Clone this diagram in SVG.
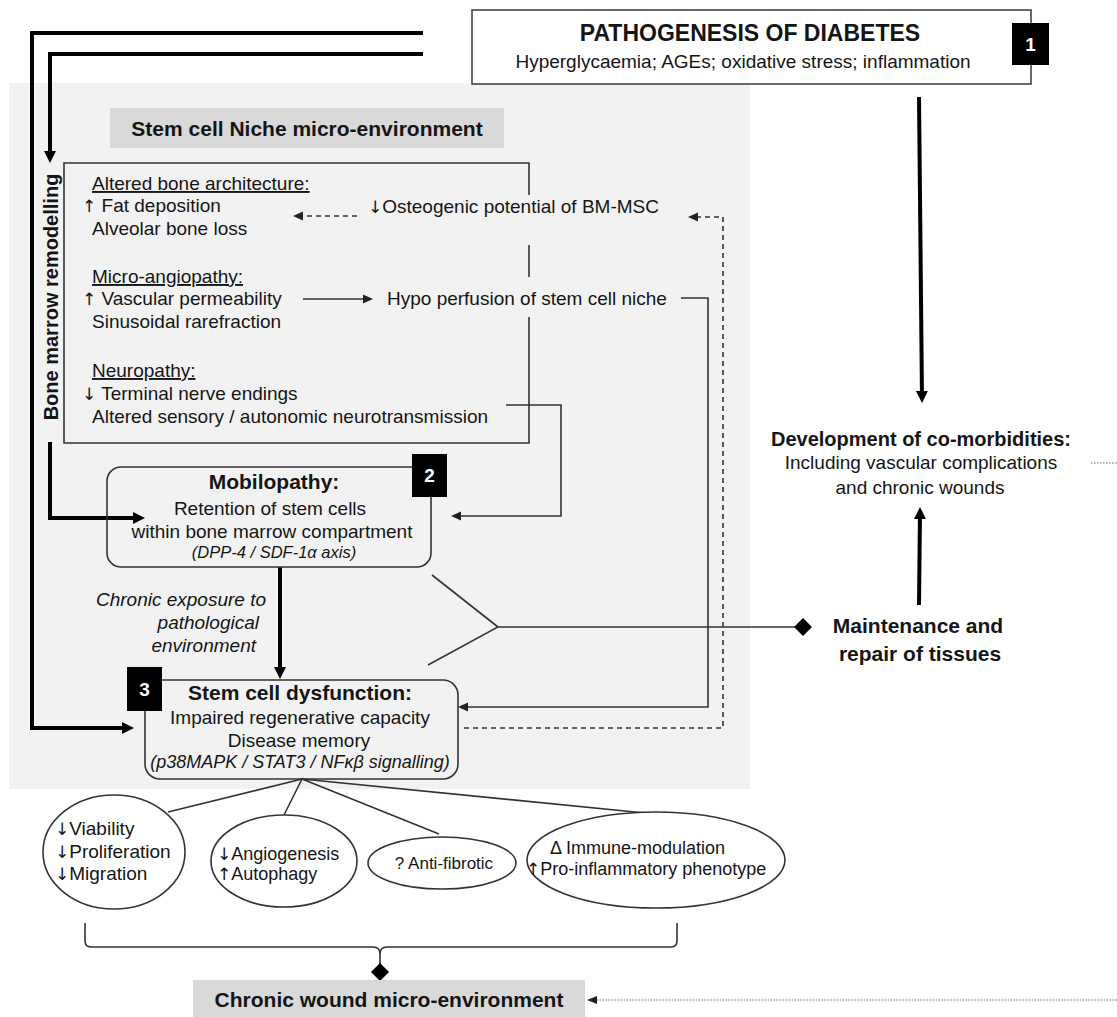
<svg xmlns="http://www.w3.org/2000/svg" width="1117" height="1017" viewBox="0 0 1117 1017">
<defs>
<style>
text{font-family:"Liberation Sans",Arial,"DejaVu Sans",sans-serif;fill:#151515}
.ar{font-family:"DejaVu Sans",sans-serif;font-size:17px;fill:#151515}
.b{font-weight:bold}
.i{font-style:italic}
.s19{font-size:19px}
.s18{font-size:18px}
.s21{font-size:21px}
.m{text-anchor:middle}
.e{text-anchor:end}
.u{text-decoration:underline}
.w{fill:#fff}
.thick{stroke:#000;stroke-width:4;fill:none}
.thin{stroke:#333;stroke-width:1.6;fill:none}
.dash{stroke-dasharray:5 4}
.dot{stroke:#9a9a9a;stroke-width:1.5;stroke-dasharray:1.5 1.5;fill:none}
.box{fill:none;stroke:#333;stroke-width:1.6}
.ell{fill:#fff;stroke:#333;stroke-width:1.6}
.sq{fill:#000}
.lab{fill:#d9d9d9}
</style>
<marker id="ak" markerUnits="userSpaceOnUse" markerWidth="14" markerHeight="14" refX="8" refY="7" orient="auto">
<path d="M0,1 L12,7 L0,13 z" fill="#000"/>
</marker>
<marker id="at" markerUnits="userSpaceOnUse" markerWidth="12" markerHeight="10" refX="7" refY="5" orient="auto">
<path d="M0,0.5 L10,5 L0,9.5 z" fill="#222"/>
</marker>
</defs>
<rect width="1117" height="1017" fill="#fff"/>
<rect id="niche-background" x="9" y="83" width="741" height="706" fill="#f2f2f2"/>

<g id="connectors">
<path class="thick" marker-end="url(#ak)" d="M423,33 H32 V728 H130"/>
<path class="thick" marker-end="url(#ak)" d="M423,54 H50 V159"/>
<path class="thick" marker-end="url(#ak)" d="M50,442 V518 H141"/>
<path class="thick" marker-end="url(#ak)" d="M919,97 L922,399"/>
<path class="thick" marker-end="url(#ak)" d="M919,605 L920,511"/>
<path class="thick" marker-end="url(#ak)" d="M280,567 V675"/>
<path class="thin" marker-end="url(#at)" d="M303,299 H370"/>
<path class="thin dash" marker-end="url(#at)" d="M357,216 H296"/>
<path class="thin" marker-end="url(#at)" d="M681,298 H708 V707 H461"/>
<path class="thin dash" marker-end="url(#at)" d="M464,728 H723 V217 H691"/>
<path class="thin" marker-end="url(#at)" d="M506,405 H561 V516 H454"/>
<path class="thin" d="M432,575 L498,627 L428,665 M498,627 H795"/>
<polygon points="794,627 803,618 812,627 803,636" fill="#000"/>
<path class="thin" d="M302,779 L168,812 M302,779 L284,815 M302,779 L439,834 M302,779 L645,813"/>
<path class="thin" d="M85,923 V941 Q85,947 91,947 H373 Q380,947 380,954 Q380,947 387,947 H671 Q677,947 677,941 V923 M380,954 V964"/>
<polygon points="371,972 380,963 389,972 380,981" fill="#000"/>
<path class="dot" d="M1091,463 H1117"/>
<path class="dot" d="M1117,1000 H595"/>
<polygon points="587,1000 597,996 597,1004" fill="#222"/>
</g>

<g id="pathogenesis">
<rect x="472" y="10" width="559" height="74" fill="#fff" stroke="#444" stroke-width="1.6"/>
<text x="750" y="41" class="b m" font-size="23">PATHOGENESIS OF DIABETES</text>
<text x="743" y="68" class="m s19">Hyperglycaemia; AGEs; oxidative stress; inflammation</text>
<rect class="sq" x="1012" y="23" width="37" height="42"/>
<text x="1030.5" y="51" class="b m w" font-size="19">1</text>
</g>

<g id="niche-label">
<rect class="lab" x="110" y="108" width="394" height="40"/>
<text x="307" y="136" class="b m s21">Stem cell Niche micro-environment</text>
</g>

<g id="bone-marrow-remodelling">
<path class="box" d="M529,195 V163 H64 V443 H529 V317 M529,277 V245"/>
<text transform="translate(58,297) rotate(-90)" class="b m" font-size="20">Bone marrow remodelling</text>
<text x="92" y="190" class="s19 u">Altered bone architecture:</text>
<text x="82" y="212" class="s19"><tspan class="ar">↑</tspan> Fat deposition</text>
<text x="92" y="235" class="s19">Alveolar bone loss</text>
<text x="92" y="283" class="s19 u">Micro-angiopathy:</text>
<text x="82" y="305" class="s19"><tspan class="ar">↑</tspan> Vascular permeability</text>
<text x="92" y="328" class="s19">Sinusoidal rarefraction</text>
<text x="92" y="377" class="s19 u">Neuropathy:</text>
<text x="82" y="400" class="s19"><tspan class="ar">↓</tspan> Terminal nerve endings</text>
<text x="92" y="423" class="s19">Altered sensory / autonomic neurotransmission</text>
</g>

<g id="osteogenic">
<text x="368" y="213" class="s19"><tspan class="ar">↓</tspan>Osteogenic potential of BM-MSC</text>
</g>

<g id="hypo-perfusion">
<text x="387" y="305" class="s19">Hypo perfusion of stem cell niche</text>
</g>

<g id="mobilopathy">
<rect class="box" x="107" y="467" width="324" height="100" rx="14"/>
<rect class="sq" x="412" y="454" width="35" height="43"/>
<text x="429.5" y="482" class="b m w" font-size="19">2</text>
<text x="274" y="489" class="b m s21">Mobilopathy:</text>
<text x="270" y="515" class="m s19">Retention of stem cells</text>
<text x="272" y="538" class="m s19">within bone marrow compartment</text>
<text x="274" y="558" class="m i" font-size="16.5">(DPP-4 / SDF-1α axis)</text>
</g>

<g id="chronic-exposure">
<text x="266" y="606" class="e i s19">Chronic exposure to</text>
<text x="259" y="629" class="e i s19">pathological</text>
<text x="256" y="652" class="e i s19">environment</text>
</g>

<g id="stem-cell-dysfunction">
<rect class="box" x="145" y="680" width="313" height="99" rx="15"/>
<rect class="sq" x="127" y="667" width="35" height="44"/>
<text x="144.5" y="696" class="b m w" font-size="19">3</text>
<text x="300" y="700" class="b m s21">Stem cell dysfunction:</text>
<text x="300" y="724" class="m s19">Impaired regenerative capacity</text>
<text x="299" y="747" class="m s19">Disease memory</text>
<text x="300" y="768" class="m i s18">(p38MAPK / STAT3 / NFκβ signalling)</text>
</g>

<g id="co-morbidities">
<text x="921" y="446" class="b m" font-size="20">Development of co-morbidities:</text>
<text x="921" y="469" class="m s19">Including vascular complications</text>
<text x="920" y="494" class="m s19">and chronic wounds</text>
</g>

<g id="maintenance">
<text x="918" y="633" class="b m" font-size="21">Maintenance and</text>
<text x="920" y="661" class="b m" font-size="21">repair of tissues</text>
</g>

<g id="viability">
<ellipse class="ell" cx="114" cy="852" rx="71" ry="57"/>
<text x="55" y="835" class="s19"><tspan class="ar">↓</tspan>Viability</text>
<text x="55" y="858" class="s19"><tspan class="ar">↓</tspan>Proliferation</text>
<text x="55" y="880" class="s19"><tspan class="ar">↓</tspan>Migration</text>
</g>

<g id="angiogenesis">
<ellipse class="ell" cx="284" cy="861" rx="73" ry="46"/>
<text x="217" y="860" class="s18"><tspan class="ar">↓</tspan>Angiogenesis</text>
<text x="217" y="880" class="s18"><tspan class="ar">↑</tspan>Autophagy</text>
</g>

<g id="anti-fibrotic">
<ellipse class="ell" cx="442" cy="863" rx="74" ry="26"/>
<text x="444" y="869" class="m" font-size="17">? Anti-fibrotic</text>
</g>

<g id="immune-modulation">
<ellipse class="ell" cx="656" cy="860" rx="129" ry="48"/>
<text x="550" y="854" class="s18">Δ  Immune-modulation</text>
<text x="526" y="875" class="s18"><tspan class="ar">↑</tspan>Pro-inflammatory phenotype</text>
</g>

<g id="chronic-wound">
<rect class="lab" x="193" y="980" width="392" height="40"/>
<text x="389" y="1007" class="b m s21">Chronic wound micro-environment</text>
</g>
</svg>
